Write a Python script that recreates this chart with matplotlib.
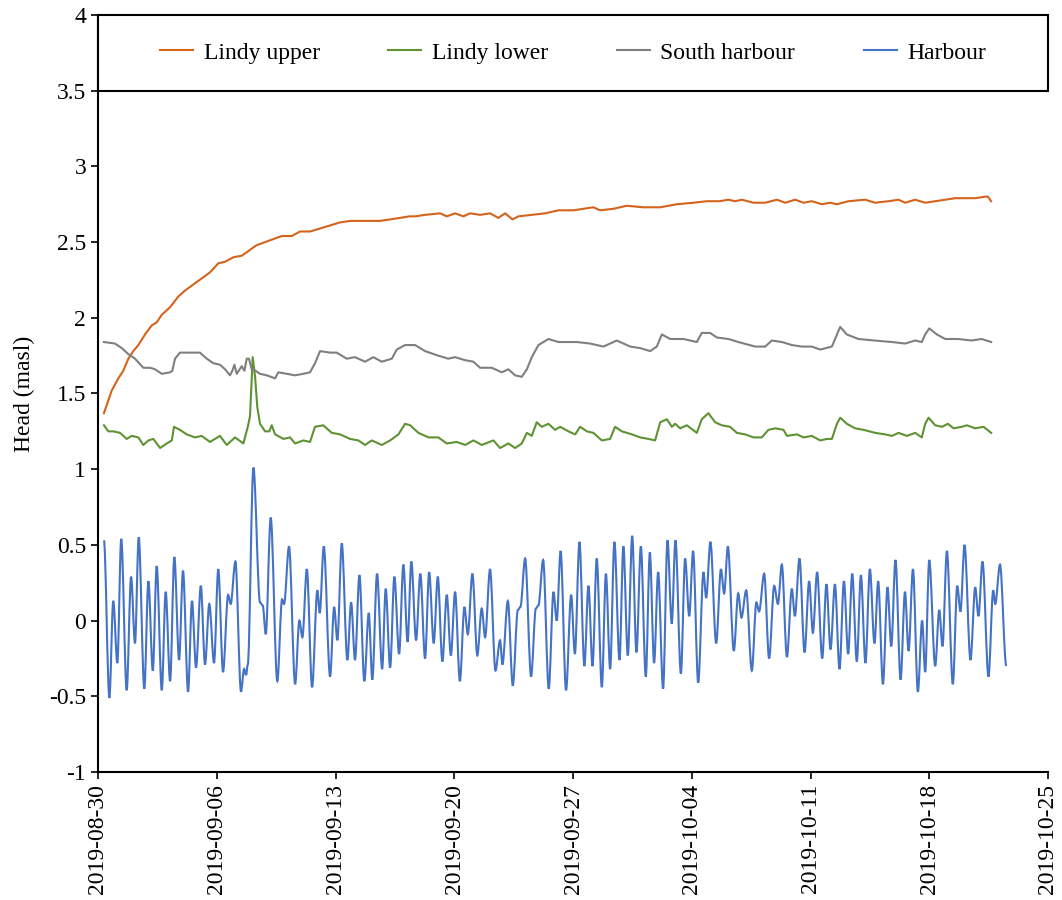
import matplotlib
matplotlib.use("Agg")
import matplotlib.pyplot as plt
import matplotlib.dates as mdates
from matplotlib.ticker import FuncFormatter, MultipleLocator
from matplotlib.patches import Rectangle, PathPatch
from matplotlib.path import Path
from matplotlib.lines import Line2D
import pandas as pd

start = pd.Timestamp("2019-08-30")

# Harbour (tidal) - day offsets from 2019-08-30 and head (masl), read at turning points
harbour_days = [
    0.35, 0.67, 0.90, 1.14, 1.37, 1.69, 1.95, 2.18, 2.40, 2.73, 2.97, 3.23, 3.46, 3.76,
    3.99, 4.25, 4.50, 4.78, 5.01, 5.31, 5.54, 5.78, 6.06, 6.31, 6.56, 6.84, 7.09, 7.37,
    7.67, 7.82, 8.10, 8.43, 8.61, 8.73, 8.83, 9.16, 9.55, 9.71, 9.89, 10.18, 10.57, 10.85,
    10.97, 11.26, 11.62, 11.87, 12.05, 12.31, 12.62, 12.93, 13.07, 13.31, 13.68, 13.92,
    14.11, 14.37, 14.70, 14.92, 15.15, 15.41, 15.70, 15.96, 16.17, 16.45, 16.75, 16.96,
    17.22, 17.47, 17.75, 18.00, 18.25, 18.47, 18.75, 19.00, 19.28, 19.52, 19.79, 20.03,
    20.30, 20.56, 20.80, 21.05, 21.33, 21.60, 21.80, 22.07, 22.36, 22.62, 22.82, 23.11,
    23.43, 23.70, 23.84, 24.16, 24.45, 24.75, 24.90, 25.18, 25.53, 25.81, 25.96, 26.24,
    26.57, 26.85, 27.04, 27.27, 27.59, 27.89, 28.11, 28.38, 28.67, 28.91, 29.15, 29.40,
    29.70, 29.94, 30.19, 30.44, 30.74, 30.97, 31.23, 31.49, 31.74, 32.00, 32.29, 32.53,
    32.78, 33.02, 33.31, 33.57, 33.82, 34.04, 34.36, 34.61, 34.85, 35.08, 35.38, 35.69,
    35.85, 36.10, 36.44, 36.72, 36.91, 37.13, 37.48, 37.74, 37.93, 38.21, 38.54, 38.81,
    38.97, 39.27, 39.56, 39.86, 40.08, 40.31, 40.61, 40.90, 41.08, 41.35, 41.65, 41.92,
    42.14, 42.39, 42.69, 42.94, 43.18, 43.44, 43.71, 43.97, 44.22, 44.46, 44.73, 44.97,
    45.24, 45.50, 45.77, 45.99, 46.27, 46.54, 46.76, 47.01, 47.31, 47.57, 47.78, 48.04,
    48.33, 48.58, 48.76, 49.00, 49.35, 49.59, 49.78, 50.04, 50.39, 50.65, 50.84, 51.08,
    51.43, 51.71, 51.90, 52.14, 52.49, 52.77, 52.89, 53.17, 53.54,
]
harbour_head = [
    0.53, -0.51, 0.13, -0.28, 0.54, -0.46, 0.29, -0.15, 0.55, -0.45, 0.26, -0.33, 0.36, -0.46,
    0.19, -0.40, 0.42, -0.26, 0.33, -0.47, 0.13, -0.31, 0.23, -0.29, 0.11, -0.28, 0.34, -0.34,
    0.17, 0.11, 0.39, -0.47, -0.32, -0.36, -0.29, 1.01, 0.12, 0.10, -0.09, 0.68, -0.40, 0.14,
    0.11, 0.49, -0.42, 0.00, -0.11, 0.34, -0.44, 0.20, 0.05, 0.49, -0.37, 0.09,
    -0.13, 0.51, -0.26, 0.12, -0.26, 0.30, -0.40, 0.05, -0.39, 0.31, -0.32, 0.21,
    -0.31, 0.29, -0.22, 0.37, -0.14, 0.39, -0.13, 0.31, -0.25, 0.32, -0.15, 0.29,
    -0.27, 0.17, -0.23, 0.19, -0.40, 0.09, -0.09, 0.31, -0.23, 0.08, -0.11, 0.34,
    -0.33, -0.13, -0.29, 0.13, -0.43, 0.07, 0.09, 0.41, -0.37, 0.08, 0.10, 0.40,
    -0.45, 0.19, 0.00, 0.46, -0.46, 0.17, -0.22, 0.52, -0.30, 0.23, -0.30, 0.41,
    -0.44, 0.31, -0.32, 0.52, -0.26, 0.49, -0.23, 0.56, -0.21, 0.49, -0.37, 0.45,
    -0.28, 0.32, -0.45, 0.53, -0.02, 0.53, -0.35, 0.41, 0.03, 0.46, -0.41, 0.32,
    0.15, 0.52, -0.15, 0.34, 0.18, 0.49, -0.20, 0.18, 0.02, 0.20, -0.33, 0.12,
    0.06, 0.31, -0.25, 0.23, 0.11, 0.37, -0.24, 0.21, 0.03, 0.41, -0.21, 0.26,
    -0.08, 0.32, -0.25, 0.24, -0.19, 0.24, -0.32, 0.26, -0.22, 0.31, -0.27, 0.30,
    -0.28, 0.34, -0.15, 0.26, -0.42, 0.22, -0.17, 0.40, -0.39, 0.19, -0.20, 0.34,
    -0.47, 0.00, -0.34, 0.40, -0.30, 0.07, -0.17, 0.46, -0.42, 0.23, 0.06, 0.50,
    -0.26, 0.22, 0.03, 0.39, -0.37, 0.20, 0.11, 0.37, -0.30,
]

# Lindy upper
upper_days = [
    0.35, 0.81, 1.20, 1.49, 1.79, 2.08, 2.38, 2.77, 3.17, 3.46, 3.76, 4.25, 4.73, 5.13,
    5.62, 6.11, 6.60, 7.09, 7.49, 7.98, 8.47, 8.86, 9.22, 9.36, 9.85, 10.34, 10.83, 11.42,
    11.91, 12.50, 13.09, 13.68, 14.27, 14.86, 15.45, 16.04, 16.63, 17.22, 17.81, 18.35,
    18.69, 19.28, 20.17, 20.56, 21.05, 21.54, 21.93, 22.52, 23.11, 23.60, 24.00, 24.43,
    24.78, 25.57, 26.36, 27.14, 28.02, 29.20, 29.60, 30.38, 31.17, 32.15, 33.14, 34.12,
    35.10, 35.89, 36.63, 37.16, 37.56, 37.95, 38.64, 39.33, 40.02, 40.51, 41.10, 41.59,
    42.08, 42.67, 43.16, 43.55, 44.24, 45.22, 45.81, 46.60, 47.19, 47.58, 48.17, 48.76,
    49.35, 49.94, 50.53, 51.12, 51.71, 52.30, 52.46, 52.65,
]
upper_head = [
    1.37, 1.52, 1.60, 1.65, 1.73, 1.78, 1.82, 1.89, 1.95, 1.97, 2.02, 2.07, 2.14, 2.18,
    2.22, 2.26, 2.30, 2.36, 2.37, 2.40, 2.41, 2.44, 2.47, 2.48, 2.50, 2.52, 2.54, 2.54,
    2.57, 2.57, 2.59, 2.61, 2.63, 2.64, 2.64, 2.64, 2.64, 2.65, 2.66, 2.67,
    2.67, 2.68, 2.69, 2.67, 2.69, 2.67, 2.69, 2.68, 2.69, 2.66, 2.69, 2.65,
    2.67, 2.68, 2.69, 2.71, 2.71, 2.73, 2.71, 2.72, 2.74, 2.73, 2.73, 2.75,
    2.76, 2.77, 2.77, 2.78, 2.77, 2.78, 2.76, 2.76, 2.78, 2.76, 2.78, 2.76,
    2.77, 2.75, 2.76, 2.75, 2.77, 2.78, 2.76, 2.77, 2.78, 2.76, 2.78, 2.76,
    2.77, 2.78, 2.79, 2.79, 2.79, 2.80, 2.80, 2.77,
]

# Lindy lower
lower_days = [
    0.35, 0.61, 0.90, 1.30, 1.69, 1.99, 2.38, 2.67, 2.97, 3.26, 3.66, 4.05, 4.35, 4.48,
    4.83, 5.23, 5.72, 6.11, 6.60, 7.19, 7.59, 8.08, 8.57, 8.83, 8.96, 9.12, 9.26, 9.39,
    9.55, 9.85, 10.10, 10.24, 10.44, 10.93, 11.32, 11.62, 12.10, 12.50, 12.79, 13.28,
    13.78, 14.27, 14.86, 15.35, 15.74, 16.14, 16.73, 17.22, 17.71, 18.10, 18.40, 18.89,
    19.48, 20.06, 20.56, 21.15, 21.64, 22.13, 22.62, 23.31, 23.70, 24.19, 24.59, 24.98,
    25.28, 25.57, 25.86, 26.16, 26.55, 26.95, 27.24, 27.73, 28.13, 28.42, 28.82, 29.20,
    29.70, 30.19, 30.48, 30.88, 31.47, 31.96, 32.45, 32.84, 33.14, 33.53, 33.83, 34.02,
    34.32, 34.71, 35.30, 35.59, 35.98, 36.38, 36.77, 37.26, 37.66, 38.15, 38.64, 39.13,
    39.52, 39.92, 40.41, 40.61, 41.20, 41.59, 42.08, 42.57, 42.97, 43.26, 43.56, 43.75,
    44.14, 44.63, 45.13, 45.81, 46.40, 46.80, 47.19, 47.68, 48.17, 48.56, 48.76, 48.96,
    49.35, 49.75, 50.10, 50.43, 50.92, 51.22, 51.71, 52.20, 52.65,
]
lower_head = [
    1.29, 1.25, 1.25, 1.24, 1.20, 1.22, 1.21, 1.16, 1.19, 1.20, 1.14, 1.17, 1.19, 1.28,
    1.26, 1.23, 1.21, 1.22, 1.18, 1.22, 1.16, 1.21, 1.17, 1.28, 1.35, 1.74, 1.61, 1.41,
    1.30, 1.25, 1.25, 1.29, 1.23, 1.20, 1.21, 1.17, 1.19, 1.18, 1.28, 1.29,
    1.24, 1.23, 1.20, 1.19, 1.16, 1.19, 1.16, 1.19, 1.23, 1.30, 1.29, 1.24,
    1.21, 1.21, 1.17, 1.18, 1.16, 1.19, 1.16, 1.19, 1.14, 1.17, 1.14, 1.17,
    1.24, 1.22, 1.31, 1.28, 1.30, 1.26, 1.28, 1.25, 1.23, 1.28, 1.25, 1.24,
    1.19, 1.20, 1.28, 1.25, 1.23, 1.21, 1.20, 1.19, 1.31, 1.33, 1.28, 1.30,
    1.27, 1.29, 1.24, 1.33, 1.37, 1.31, 1.29, 1.28, 1.24, 1.23, 1.21, 1.21,
    1.26, 1.27, 1.26, 1.22, 1.23, 1.21, 1.22, 1.19, 1.20, 1.20, 1.30, 1.34,
    1.30, 1.27, 1.26, 1.24, 1.23, 1.22, 1.24, 1.22, 1.24, 1.21, 1.30, 1.34,
    1.29, 1.28, 1.30, 1.27, 1.28, 1.29, 1.27, 1.28, 1.24,
]

# South harbour
south_days = [
    0.35, 1.00, 1.40, 1.79, 2.18, 2.67, 3.07, 3.36, 3.76, 4.25, 4.38, 4.54, 4.83, 5.32,
    6.01, 6.41, 6.80, 7.19, 7.49, 7.78, 7.92, 8.04, 8.18, 8.47, 8.63, 8.77, 8.90, 9.06,
    9.16, 9.55, 9.95, 10.44, 10.63, 11.13, 11.62, 12.10, 12.50, 12.79, 13.09, 13.68,
    14.07, 14.66, 15.15, 15.74, 16.23, 16.73, 17.32, 17.61, 18.10, 18.69, 19.28, 20.06,
    20.65, 21.05, 21.64, 22.13, 22.52, 23.21, 23.80, 24.19, 24.59, 24.98, 25.28, 25.57,
    25.96, 26.55, 27.14, 28.23, 29.01, 29.79, 30.58, 31.37, 31.96, 32.55, 32.94, 33.24,
    33.73, 34.51, 35.30, 35.59, 36.08, 36.48, 37.16, 37.75, 38.74, 39.33, 39.72, 40.31,
    40.90, 41.49, 42.08, 42.57, 43.26, 43.75, 44.14, 44.83, 45.77, 46.80, 47.58, 48.17,
    48.56, 48.76, 49.00, 49.45, 49.94, 50.71, 51.49, 52.08, 52.65,
]
south_head = [
    1.84, 1.83, 1.80, 1.76, 1.73, 1.67, 1.67, 1.66, 1.63, 1.64, 1.65, 1.73, 1.77, 1.77,
    1.77, 1.73, 1.70, 1.69, 1.66, 1.62, 1.65, 1.69, 1.63, 1.68, 1.65, 1.73, 1.73, 1.66,
    1.66, 1.63, 1.62, 1.60, 1.64, 1.63, 1.62, 1.63, 1.64, 1.70, 1.78, 1.77,
    1.77, 1.73, 1.74, 1.71, 1.74, 1.71, 1.73, 1.79, 1.82, 1.82, 1.78, 1.75,
    1.73, 1.74, 1.72, 1.71, 1.67, 1.67, 1.64, 1.66, 1.62, 1.61, 1.66, 1.74,
    1.82, 1.86, 1.84, 1.84, 1.83, 1.81, 1.85, 1.81, 1.80, 1.78, 1.81, 1.89,
    1.86, 1.86, 1.84, 1.90, 1.90, 1.87, 1.86, 1.84, 1.81, 1.81, 1.85, 1.84,
    1.82, 1.81, 1.81, 1.79, 1.81, 1.94, 1.89, 1.86, 1.85, 1.84, 1.83, 1.85,
    1.84, 1.89, 1.93, 1.89, 1.86, 1.86, 1.85, 1.86, 1.84,
]

c_upper = "#D4631C"
c_lower = "#5E9233"
c_south = "#7F7F7F"
c_harb = "#4472C4"


def to_dates(days):
    return start + pd.to_timedelta(days, unit="D")


def smooth_path(days, vals):
    # cubic bezier through turning points, flat tangent at each point (like a smoothed Excel line)
    x = mdates.date2num(to_dates(days).to_pydatetime())
    verts = [(x[0], vals[0])]
    codes = [Path.MOVETO]
    for i in range(len(x) - 1):
        dx = (x[i + 1] - x[i]) / 3.0
        verts += [(x[i] + dx, vals[i]), (x[i + 1] - dx, vals[i + 1]), (x[i + 1], vals[i + 1])]
        codes += [Path.CURVE4] * 3
    return Path(verts, codes)


plt.rcParams["font.family"] = ["Liberation Serif", "DejaVu Serif"]
plt.rcParams["font.size"] = 17

fig = plt.figure(figsize=(10.62, 9), dpi=100)
ax = fig.add_axes([98 / 1062, 1 - 772 / 900, 950 / 1062, 757 / 900])

ax.plot(to_dates(upper_days), upper_head, color=c_upper, lw=1.5)
ax.plot(to_dates(lower_days), lower_head, color=c_lower, lw=1.5)
ax.plot(to_dates(south_days), south_head, color=c_south, lw=1.5)
ax.add_patch(PathPatch(smooth_path(harbour_days, harbour_head), fill=False,
                       edgecolor=c_harb, lw=1.5))

ax.set_ylim(-1, 4)
ax.set_xlim(pd.Timestamp("2019-08-30"), pd.Timestamp("2019-10-25"))
ax.yaxis.set_major_locator(MultipleLocator(0.5))
ax.yaxis.set_major_formatter(FuncFormatter(lambda v, p: "%g" % v))
ax.xaxis.set_major_locator(mdates.DayLocator(interval=7))
ax.xaxis.set_major_formatter(mdates.DateFormatter("%Y-%m-%d"))
plt.setp(ax.get_xticklabels(), rotation=90)
ax.tick_params(direction="out", length=5, width=1.2, colors="black")
ax.set_ylabel("Head (masl)", labelpad=10)

for s in ["top", "right"]:
    ax.spines[s].set_visible(False)
for s in ["left", "bottom"]:
    ax.spines[s].set_linewidth(1.5)
    ax.spines[s].set_color("black")

# legend box across the top band (3.5 to 4)
ax.add_patch(Rectangle((0, 0.9), 1, 0.1, transform=ax.transAxes, facecolor="white",
                       edgecolor="black", lw=1.5, clip_on=False, zorder=3))
handles = [Line2D([], [], color=c, lw=1.5) for c in [c_upper, c_lower, c_south, c_harb]]
labels = ["Lindy upper", "Lindy lower", "South harbour", "Harbour"]
leg = ax.legend(handles, labels, loc="center", bbox_to_anchor=(0.5, 0.95), ncol=4,
                frameon=False, handlelength=1.4, handletextpad=0.45, columnspacing=2.9)
leg.set_zorder(4)

plt.savefig("out.png", dpi=100)
